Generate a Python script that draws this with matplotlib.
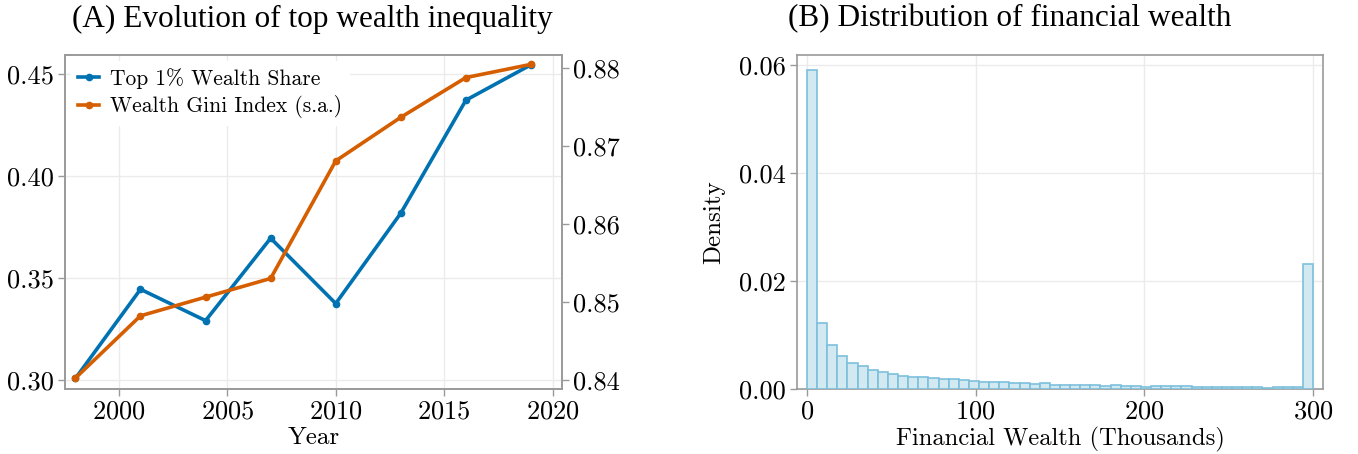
import matplotlib
matplotlib.use("Agg")
import matplotlib.pyplot as plt
import numpy as np

# Panel A: survey years and inequality measures
years = [1998, 2001, 2004, 2007, 2010, 2013, 2016, 2019]
top1_share = [0.3006, 0.3444, 0.3290, 0.3695, 0.3374, 0.3818, 0.4373, 0.4547]
gini_sa = [0.8402, 0.8482, 0.8506, 0.8530, 0.8681, 0.8737, 0.8788, 0.8805]

# Panel B: histogram of financial wealth (thousands), top-coded at 300
bin_edges = np.arange(0, 301, 6)
density = [0.0591, 0.0123, 0.0082, 0.0062, 0.0049, 0.0042, 0.0036, 0.0032, 0.0028, 0.0025,
           0.0023, 0.0022, 0.0020, 0.0019, 0.0018, 0.0016, 0.0014, 0.00135, 0.00135, 0.00124,
           0.0011, 0.00105, 0.00093, 0.00105, 0.0008, 0.0008, 0.0008, 0.00074, 0.0008, 0.00062,
           0.00074, 0.00062, 0.00062, 0.00045, 0.00055, 0.00055, 0.00062, 0.00056, 0.0004, 0.0004,
           0.00042, 0.0004, 0.0004, 0.00038, 0.00038, 0.0002, 0.0003, 0.0003, 0.00035, 0.0231]

BLUE = "#0072B2"
ORANGE = "#D55E00"
SPINE = "#9a9a9a"
GRID = "#ebebeb"

plt.rcParams["font.family"] = ["cmr10"]
plt.rcParams["mathtext.fontset"] = "cm"
plt.rcParams["axes.formatter.use_mathtext"] = True

fig = plt.figure(figsize=(13.58, 4.54), dpi=100)
W, H = 1358, 454


def px_axes(x0, y0, x1, y1):
    return fig.add_axes([x0 / W, 1 - y1 / H, (x1 - x0) / W, (y1 - y0) / H])


def style(ax):
    for s in ax.spines.values():
        s.set_color(SPINE)
        s.set_linewidth(1.2)
    ax.tick_params(axis="both", colors=SPINE, labelcolor="black", labelsize=19,
                   length=5, width=1.0, direction="out", pad=3)
    ax.grid(True, color=GRID, linewidth=1.0)
    ax.set_axisbelow(True)


# ---------- Panel A ----------
ax1 = px_axes(65, 55, 562, 389)
style(ax1)
ax1.plot(years, top1_share, color=BLUE, lw=2.6, marker="o", ms=4.5,
         label="Top 1% Wealth Share", zorder=3)
ax1.set_xlim(1997.52, 2020.43)
ax1.set_ylim(0.2954, 0.4595)
ax1.set_xticks([2000, 2005, 2010, 2015, 2020])
ax1.set_yticks([0.30, 0.35, 0.40, 0.45])
ax1.set_yticklabels(["0.30", "0.35", "0.40", "0.45"])
ax1.set_xlabel("Year", fontsize=18, labelpad=2)

ax2 = ax1.twinx()
style(ax2)
ax2.grid(False)
ax2.plot(years, gini_sa, color=ORANGE, lw=2.6, marker="o", ms=4.5,
         label="Wealth Gini Index (s.a.)", zorder=3)
ax2.set_ylim(0.8388, 0.8817)
ax2.set_yticks([0.84, 0.85, 0.86, 0.87, 0.88])
ax2.set_yticklabels(["0.84", "0.85", "0.86", "0.87", "0.88"])

h1, l1 = ax1.get_legend_handles_labels()
h2, l2 = ax2.get_legend_handles_labels()
leg = ax2.legend(h1 + h2, l1 + l2, loc="upper left", fontsize=15.5, frameon=True,
                 fancybox=False, framealpha=1.0, edgecolor="white", facecolor="white",
                 handlelength=1.0, handletextpad=0.5, borderaxespad=0.3,
                 labelspacing=0.3, borderpad=0.3)

fig.text(312 / W, 1 - 19 / H, "(A) Evolution of top wealth inequality",
         ha="center", va="center", fontsize=22.5, family="Liberation Serif")

# ---------- Panel B ----------
ax3 = px_axes(797, 55, 1323, 389)
style(ax3)
ax3.bar(bin_edges[:-1], density, width=6, align="edge", color="#d3e9f2",
        edgecolor="#7cc0dc", linewidth=1.2, zorder=3)
ax3.set_xlim(-5.9, 305.9)
ax3.set_ylim(0, 0.0619)
ax3.set_xticks([0, 100, 200, 300])
ax3.set_yticks([0.00, 0.02, 0.04, 0.06])
ax3.set_yticklabels(["0.00", "0.02", "0.04", "0.06"])
ax3.set_xlabel("Financial Wealth (Thousands)", fontsize=17.7, labelpad=2)
ax3.set_ylabel("Density", fontsize=18, labelpad=10)

fig.text(1010 / W, 1 - 19 / H, "(B) Distribution of financial wealth",
         ha="center", va="center", fontsize=22.5, family="Liberation Serif")

fig.savefig("out.png", dpi=100)
